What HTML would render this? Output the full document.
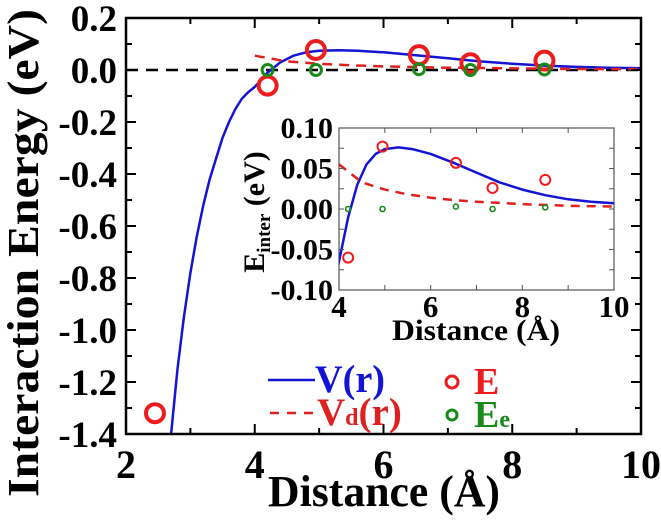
<!DOCTYPE html>
<html><head><meta charset="utf-8"><style>
html,body{margin:0;padding:0;background:#fff;overflow:hidden;width:661px;height:521px}
svg{display:block}
svg text{font-family:"Liberation Serif",serif;font-weight:bold}
</style></head><body>
<svg id="c" width="661" height="521" xmlns="http://www.w3.org/2000/svg"></svg>
<script>
const rE=[2.45,4.2,4.95,6.55,7.35,8.5];
const vE=[-1.32,-0.06,0.077,0.057,0.026,0.036];
const rEe=[4.2,4.95,6.55,7.35,8.5];
const vEe=[0.0,0.0,0.003,0.0,0.002];
const rV=[2.7,2.8,2.9,3.0,3.1,3.2,3.3,3.4,3.5,3.6,3.7,3.8,3.9,4.0,4.2,4.4,4.6,4.8,5.0,5.3,5.6,6.0,6.5,7.0,7.5,8.0,8.5,9.0,9.5,10];
const vV=[-1.4,-1.15,-0.95,-0.78,-0.64,-0.52,-0.42,-0.34,-0.26,-0.2,-0.15,-0.11,-0.085,-0.065,-0.01,0.03,0.055,0.068,0.074,0.076,0.074,0.068,0.057,0.045,0.033,0.024,0.017,0.012,0.009,0.007];
const rVd=[4.0,4.5,5.0,5.5,6.0,6.5,7.0,7.5,8.0,9.0,10];
const vVd=[0.055,0.033,0.024,0.018,0.014,0.011,0.009,0.0075,0.006,0.004,0.003];
const xTicks=[2,4,6,8,10];
const yTicks=[0.2,0.0,-0.2,-0.4,-0.6,-0.8,-1.0,-1.2,-1.4];
const ixTicks=[4,6,8,10];
const iyTicks=[0.10,0.05,0.00,-0.05,-0.10];

const S=document.getElementById('c'),NS='http://www.w3.org/2000/svg';
function el(t,a,p){const e=document.createElementNS(NS,t);for(const k in a)e.setAttribute(k,a[k]);(p||S).appendChild(e);return e;}
function txt(s,a,p){const e=el('text',a,p);e.textContent=s;return e;}

const X=v=>126+(v-2)*(641-126)/8;
const Y=v=>18+(0.2-v)*(434-18)/1.6;
const clip=el('clipPath',{id:'mc'});el('rect',{x:126,y:18,width:515,height:416},clip);
const clip2=el('clipPath',{id:'ic'});el('rect',{x:339,y:128,width:275,height:162},clip2);

let g=el('line',{x1:126,y1:Y(0),x2:641,y2:Y(0),stroke:'#000','stroke-width':2.5,'stroke-dasharray':'12,8'});



function pathOf(xs,ys,fx,fy){return xs.map((x,i)=>(i?'L':'M')+fx(x).toFixed(1)+','+fy(ys[i]).toFixed(1)).join('');}
g=el('path',{d:pathOf(rV,vV,X,Y),fill:'none',stroke:'#1414d4','stroke-width':2.5,'stroke-linejoin':'round','clip-path':'url(#mc)'});


g=el('path',{d:pathOf(rVd,vVd,X,Y),fill:'none',stroke:'#e02020','stroke-width':2.5,'stroke-dasharray':'10,7','clip-path':'url(#mc)'});


rE.forEach((r,i)=>{const c=el('circle',{cx:X(r),cy:Y(vE[i]),r:9,fill:'none',stroke:'#ee1c1c','stroke-width':4});

});
rEe.forEach((r,i)=>{const c=el('circle',{cx:X(r),cy:Y(vEe[i]),r:5.5,fill:'none',stroke:'#178a17','stroke-width':3});

});

g=el('rect',{x:126,y:18,width:515,height:416,fill:'none',stroke:'#000','stroke-width':2.5});


for(let v=2;v<=10.001;v+=1){const x=X(v),L=(Math.round(v)%2==0)?10:6;
el('line',{x1:x,y1:434,x2:x,y2:434-L,stroke:'#000','stroke-width':2});
el('line',{x1:x,y1:18,x2:x,y2:18+L,stroke:'#000','stroke-width':2});}
for(let k=0;k<=16;k++){const v=0.2-k*0.1,y=Y(v),L=k%2==0?10:6;
el('line',{x1:126,y1:y,x2:126+L,y2:y,stroke:'#000','stroke-width':2});
el('line',{x1:641,y1:y,x2:641-L,y2:y,stroke:'#000','stroke-width':2});}
xTicks.forEach(v=>{const t=txt(String(v),{x:X(v),y:478,'text-anchor':'middle','font-size':40});

});
yTicks.forEach(v=>{const t=txt(v.toFixed(1),{x:117,y:Y(v)+13,'text-anchor':'end','font-size':37});

});
g=txt('Distance (Å)',{x:268,y:506,'font-size':44,textLength:232,lengthAdjust:'spacingAndGlyphs'});


g=txt('Interaction Energy (eV)',{x:0,y:0,'text-anchor':'middle','font-size':44,textLength:488,lengthAdjust:'spacingAndGlyphs',transform:'translate(38,253) rotate(-90)'});



// inset
const IX=v=>339+(v-4)*275/6;
const IY=v=>128+(0.10-v)*162/0.2;
g=el('rect',{x:339,y:128,width:275,height:162,fill:'#fff',stroke:'#555','stroke-width':1.2});


g=el('path',{d:pathOf(rV,vV,IX,IY),fill:'none',stroke:'#1414d4','stroke-width':2.5,'stroke-linejoin':'round','clip-path':'url(#ic)'});


g=el('path',{d:pathOf(rVd,vVd,IX,IY),fill:'none',stroke:'#e02020','stroke-width':2.5,'stroke-dasharray':'9,7','clip-path':'url(#ic)'});


rE.forEach((r,i)=>{if(r<4)return;const c=el('circle',{cx:IX(r),cy:IY(vE[i]),r:5,fill:'none',stroke:'#ee1c1c','stroke-width':2});

});
rEe.forEach((r,i)=>{const c=el('circle',{cx:IX(r),cy:IY(vEe[i]),r:2.5,fill:'none',stroke:'#178a17','stroke-width':1.6});

});
for(let v=4;v<=10.001;v+=1){const x=IX(v);el('line',{x1:x,y1:290,x2:x,y2:285,stroke:'#555'});el('line',{x1:x,y1:128,x2:x,y2:133,stroke:'#555'});}
for(let k=0;k<=8;k++){const y=IY(0.1-k*0.025);el('line',{x1:339,y1:y,x2:344,y2:y,stroke:'#555'});el('line',{x1:614,y1:y,x2:609,y2:y,stroke:'#555'});}
ixTicks.forEach(v=>{const t=txt(String(v),{x:IX(v),y:317,'text-anchor':'middle','font-size':31});

});
iyTicks.forEach(v=>{const t=txt(v.toFixed(2),{x:333,y:IY(v)+10,'text-anchor':'end','font-size':30});

});
g=txt('Distance (Å)',{x:392,y:340,'font-size':30,textLength:168,lengthAdjust:'spacingAndGlyphs'});


g=el('text',{x:0,y:0,'text-anchor':'middle','font-size':30,transform:'translate(264,212) rotate(-90)'});
g.innerHTML='E<tspan font-size="19" dy="6">inter</tspan><tspan dy="-6"> (eV)</tspan>';



// legend
g=el('line',{x1:268,y1:380,x2:315,y2:380,stroke:'#1414d4','stroke-width':2.5});


g=txt('V(r)',{x:315,y:392,'font-size':39,fill:'#1414d4',textLength:70,lengthAdjust:'spacingAndGlyphs'});


g=el('line',{x1:270,y1:413,x2:315,y2:413,stroke:'#e02020','stroke-width':2.5,'stroke-dasharray':'9,8'});


g=el('text',{x:317,y:425,'font-size':39,fill:'#e02020'});g.innerHTML='V<tspan font-size="24">d</tspan>(r)';


g=el('circle',{cx:452,cy:382,r:6,fill:'none',stroke:'#ee1c1c','stroke-width':3});


g=txt('E',{x:474,y:394,'font-size':38,fill:'#ee1c1c'});


g=el('circle',{cx:452,cy:415,r:5,fill:'none',stroke:'#178a17','stroke-width':3});


g=el('text',{x:474,y:427,'font-size':38,fill:'#178a17'});g.innerHTML='E<tspan font-size="24">e</tspan>';


</script>
</body></html>
